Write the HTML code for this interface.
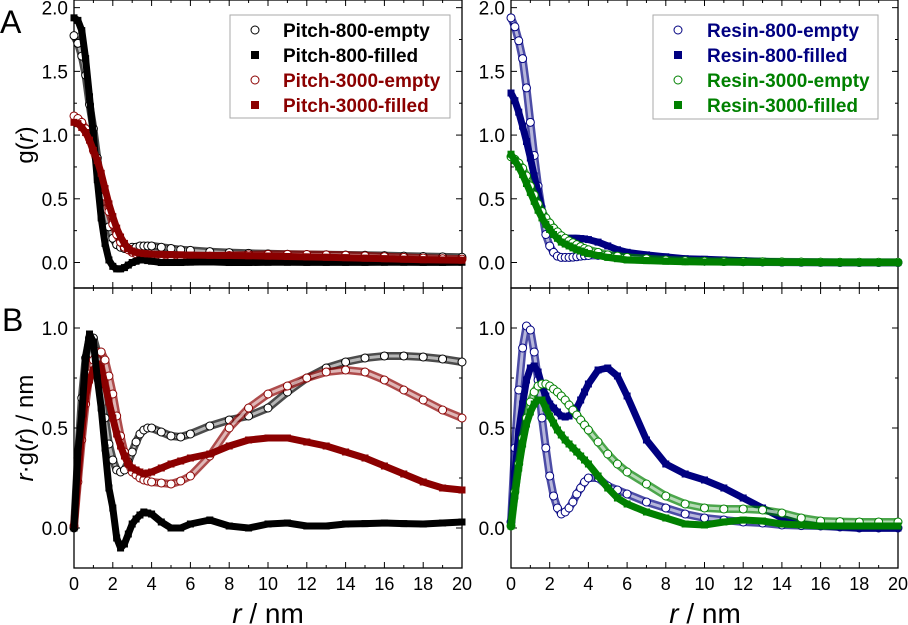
<!DOCTYPE html>
<html><head><meta charset="utf-8">
<style>
html,body{margin:0;padding:0;background:#fff;}
svg{display:block;font-family:"Liberation Sans",Arial,sans-serif;}
</style></head>
<body>
<svg id="fig" width="908" height="625" viewBox="0 0 908 625" xmlns="http://www.w3.org/2000/svg"></svg>
<script>
// ---------- DATA ----------
const rA = [0,0.2,0.4,0.6,0.8,1.0,1.2,1.4,1.6,1.8,2.0,2.2,2.4,2.6,2.8,3.0,3.2,3.4,3.6,3.8,4.0,4.5,5,5.5,6,7,8,9,10,11,12,13,14,15,16,17,18,19,20];
// top-left g(r)
const gP800e = [1.78,1.72,1.62,1.47,1.24,1.05,0.82,0.60,0.42,0.28,0.19,0.14,0.12,0.11,0.11,0.12,0.12,0.13,0.13,0.13,0.13,0.12,0.11,0.10,0.095,0.085,0.078,0.072,0.068,0.065,0.063,0.061,0.059,0.057,0.054,0.05,0.047,0.044,0.041];
const gP800f = [1.92,1.90,1.82,1.60,1.30,1.00,0.65,0.35,0.15,0.02,-0.03,-0.05,-0.05,-0.04,-0.02,0.0,0.01,0.02,0.02,0.015,0.01,0.0,0.0,0.0,0.003,0.005,0.0,0.0,0.002,0.002,0.001,0.001,0.001,0.001,0.002,0.002,0.001,0.001,0.002];
const gP3000e = [1.15,1.13,1.10,1.05,0.97,0.88,0.78,0.65,0.52,0.40,0.30,0.22,0.16,0.12,0.10,0.08,0.07,0.065,0.062,0.06,0.058,0.055,0.05,0.048,0.047,0.05,0.055,0.06,0.064,0.064,0.063,0.06,0.057,0.052,0.046,0.04,0.035,0.03,0.027];
const gP3000f = [1.10,1.09,1.06,1.02,0.96,0.88,0.80,0.70,0.58,0.46,0.36,0.27,0.20,0.15,0.11,0.09,0.08,0.075,0.07,0.068,0.066,0.064,0.062,0.06,0.058,0.056,0.055,0.053,0.05,0.047,0.044,0.041,0.038,0.034,0.03,0.026,0.022,0.02,0.018];
// bottom-left r*g(r)
const rgP800e = [0.0,0.35,0.65,0.85,0.95,0.95,0.88,0.72,0.55,0.42,0.34,0.29,0.28,0.29,0.33,0.38,0.43,0.47,0.49,0.5,0.5,0.48,0.46,0.455,0.47,0.51,0.54,0.56,0.6,0.68,0.75,0.8,0.83,0.85,0.86,0.86,0.855,0.845,0.83];
const rgP800f = [0.0,0.38,0.57,0.85,0.97,0.93,0.75,0.60,0.40,0.20,0.10,-0.05,-0.10,-0.08,-0.03,0.02,0.045,0.065,0.08,0.075,0.07,0.03,0.0,0.0,0.02,0.04,0.01,0.0,0.02,0.025,0.01,0.01,0.02,0.022,0.025,0.022,0.02,0.025,0.03];
const rgP3000e = [0.01,0.23,0.44,0.62,0.77,0.84,0.88,0.88,0.84,0.76,0.67,0.56,0.46,0.38,0.32,0.28,0.265,0.25,0.24,0.235,0.23,0.225,0.22,0.235,0.26,0.36,0.50,0.60,0.67,0.71,0.75,0.78,0.79,0.78,0.74,0.69,0.64,0.59,0.55];
const rgP3000f = [0.0,0.25,0.48,0.66,0.74,0.79,0.82,0.80,0.72,0.63,0.55,0.47,0.41,0.36,0.32,0.30,0.29,0.28,0.27,0.275,0.28,0.30,0.32,0.335,0.35,0.37,0.41,0.44,0.45,0.45,0.43,0.41,0.38,0.35,0.31,0.27,0.23,0.20,0.19];
// top-right g(r)
const gR800e = [1.92,1.85,1.74,1.60,1.37,1.10,0.84,0.60,0.40,0.22,0.13,0.08,0.05,0.04,0.04,0.04,0.042,0.045,0.05,0.053,0.055,0.056,0.055,0.05,0.04,0.03,0.02,0.015,0.01,0.008,0.006,0.004,0.003,0.002,0.001,0.0,0.0,0.0,0.0];
const gR800f = [1.33,1.27,1.18,1.07,0.95,0.82,0.68,0.55,0.42,0.32,0.26,0.22,0.20,0.19,0.19,0.19,0.19,0.19,0.188,0.185,0.18,0.16,0.13,0.10,0.08,0.06,0.045,0.03,0.025,0.02,0.015,0.01,0.005,0.003,0.002,0.001,0.0,0.0,0.0];
const gR3000e = [0.83,0.81,0.78,0.74,0.68,0.60,0.53,0.46,0.40,0.35,0.31,0.27,0.24,0.21,0.19,0.17,0.155,0.14,0.125,0.11,0.10,0.08,0.06,0.05,0.04,0.03,0.02,0.014,0.01,0.008,0.007,0.006,0.005,0.004,0.003,0.002,0.002,0.002,0.002];
const gR3000f = [0.85,0.80,0.75,0.69,0.62,0.55,0.48,0.41,0.35,0.30,0.26,0.22,0.19,0.16,0.145,0.13,0.115,0.10,0.09,0.08,0.07,0.055,0.04,0.03,0.02,0.015,0.01,0.006,0.004,0.003,0.003,0.002,0.002,0.001,0.001,0.001,0.0,0.0,0.0];
// bottom-right r*g(r)
const rgR800e = [0.03,0.40,0.69,0.90,1.01,0.99,0.88,0.74,0.55,0.40,0.26,0.16,0.10,0.07,0.08,0.10,0.13,0.17,0.20,0.23,0.25,0.25,0.21,0.19,0.17,0.13,0.10,0.07,0.05,0.04,0.03,0.025,0.015,0.012,0.01,0.005,0.0,0.0,0.0];
const rgR800f = [0.03,0.27,0.48,0.62,0.74,0.80,0.81,0.78,0.71,0.66,0.62,0.60,0.58,0.56,0.555,0.56,0.58,0.60,0.64,0.68,0.72,0.79,0.80,0.76,0.66,0.44,0.32,0.27,0.24,0.20,0.15,0.10,0.05,0.02,0.01,0.005,0.0,0.0,0.0];
const rgR3000e = [0.01,0.18,0.32,0.45,0.55,0.63,0.68,0.71,0.72,0.72,0.71,0.695,0.68,0.66,0.64,0.615,0.59,0.565,0.54,0.515,0.49,0.43,0.37,0.32,0.28,0.22,0.16,0.12,0.10,0.095,0.095,0.09,0.075,0.05,0.035,0.032,0.03,0.03,0.03];
const rgR3000f = [0.01,0.16,0.30,0.42,0.52,0.58,0.62,0.64,0.64,0.60,0.56,0.525,0.49,0.465,0.44,0.42,0.40,0.38,0.36,0.34,0.32,0.26,0.20,0.15,0.12,0.08,0.05,0.02,0.015,0.03,0.04,0.035,0.02,0.015,0.01,0.01,0.01,0.01,0.01];
const xTicks = [0,2,4,6,8,10,12,14,16,18,20];
const yTicksTop = [0.0,0.5,1.0,1.5,2.0];
const yTicksBot = [0.0,0.5,1.0];

// ---------- DRAW ----------
const NS = "http://www.w3.org/2000/svg";
const svg = document.getElementById('fig');
function el(tag, attrs, parent){ const e=document.createElementNS(NS,tag); for(const k in attrs) e.setAttribute(k,attrs[k]); (parent||svg).appendChild(e); return e; }

const panels = {
  tl:{x0:74,x1:462,y0:0,y1:288,ymin:-0.2,ymax:2.06},
  tr:{x0:511,x1:898,y0:0,y1:288,ymin:-0.2,ymax:2.06},
  bl:{x0:74,x1:462,y0:288,y1:568,ymin:-0.2,ymax:1.2},
  br:{x0:511,x1:898,y0:288,y1:568,ymin:-0.2,ymax:1.2}
};
function xs(p,v){ return p.x0 + (v/20)*(p.x1-p.x0); }
function ys(p,v){ return p.y1 - (v-p.ymin)/(p.ymax-p.ymin)*(p.y1-p.y0); }

function drawFrame(key, yTicks, showX){
  const p = panels[key];
  const g = el('g',{});
  
  
  const fr = el('rect',{x:p.x0,y:p.y0,width:p.x1-p.x0,height:p.y1-p.y0,fill:'none',stroke:'#000','stroke-width':1.3},g);
  
  
  for(let v=0; v<=20; v+=1){
    const x=xs(p,v), L = (v%2===0)?6:3;
    el('line',{x1:x,x2:x,y1:p.y1,y2:p.y1-L,stroke:'#000','stroke-width':1},g);
    el('line',{x1:x,x2:x,y1:p.y0,y2:p.y0+L,stroke:'#000','stroke-width':1},g);
  }
  for(let v=0; v<=p.ymax+0.001; v+=0.25){
    const y=ys(p,v), L = (Math.abs(v*2-Math.round(v*2))<1e-6)?6:3;
    el('line',{x1:p.x0,x2:p.x0+L,y1:y,y2:y,stroke:'#000','stroke-width':1},g);
    el('line',{x1:p.x1,x2:p.x1-L,y1:y,y2:y,stroke:'#000','stroke-width':1},g);
  }
  yTicks.forEach(v=>{
    const t = el('text',{x:p.x0-6,y:ys(p,v)+7,'text-anchor':'end','font-size':19,fill:'#000'},g);
    t.textContent = v.toFixed(1);
    
    
  });
  if(showX){
    xTicks.forEach(v=>{
      const t = el('text',{x:xs(p,v),y:590,'text-anchor':'middle','font-size':18,fill:'#000'},g);
      t.textContent = String(v);
      
      
    });
  }
}
function series(key, vals, color, filled, name){
  const p = panels[key];
  const g = el('g',{});
  
  
  const pts = rA.map((r,i)=> xs(p,r).toFixed(1)+','+ys(p,vals[i]).toFixed(1)).join(' ');
  if(filled){
    el('polyline',{points:pts,fill:'none',stroke:color,'stroke-width':7,'stroke-linejoin':'round'},g);
  } else {
    el('polyline',{points:pts,fill:'none',stroke:color,'stroke-width':8,'stroke-opacity':0.7,'stroke-linejoin':'round'},g);
    el('polyline',{points:pts,fill:'none',stroke:'#fff','stroke-width':3,'stroke-opacity':0.6,'stroke-linejoin':'round'},g);
  }
  rA.forEach((r,i)=>{
    const x=xs(p,r), y=ys(p,vals[i]);
    let m;
    if(filled){ m = el('rect',{x:x-3.5,y:y-3.5,width:7,height:7,fill:color},g); }
    else { m = el('circle',{cx:x,cy:y,r:4,fill:'#fff',stroke:color,'stroke-width':1},g); }
    
    
  });
}
drawFrame('tl', yTicksTop, false);
drawFrame('tr', yTicksTop, false);
drawFrame('bl', yTicksBot, true);
drawFrame('br', yTicksBot, true);

const BLK='#000', RED='#8b0000', NAVY='#000080', GRN='#008000';
series('tl', gP800e, BLK, false, 'series-pitch-800-empty');
series('tl', gP3000e, RED, false, 'series-pitch-3000-empty');
series('tl', gP800f, BLK, true, 'series-pitch-800-filled');
series('tl', gP3000f, RED, true, 'series-pitch-3000-filled');
series('bl', rgP800e, BLK, false, 'series-pitch-800-empty-rg');
series('bl', rgP3000e, RED, false, 'series-pitch-3000-empty-rg');
series('bl', rgP3000f, RED, true, 'series-pitch-3000-filled-rg');
series('bl', rgP800f, BLK, true, 'series-pitch-800-filled-rg');
series('tr', gR800e, NAVY, false, 'series-resin-800-empty');
series('tr', gR800f, NAVY, true, 'series-resin-800-filled');
series('tr', gR3000e, GRN, false, 'series-resin-3000-empty');
series('tr', gR3000f, GRN, true, 'series-resin-3000-filled');
series('br', rgR800e, NAVY, false, 'series-resin-800-empty-rg');
series('br', rgR800f, NAVY, true, 'series-resin-800-filled-rg');
series('br', rgR3000e, GRN, false, 'series-resin-3000-empty-rg');
series('br', rgR3000f, GRN, true, 'series-resin-3000-filled-rg');

function legend(x0,y0,w,h,mx,tx,entries,name){
  const g = el('g',{});
  
  
  el('rect',{x:x0,y:y0,width:w,height:h,fill:'#fff',stroke:'#aaa','stroke-width':1},g);
  entries.forEach((e,i)=>{
    const y = y0+15+i*25;
    if(e[2]) el('rect',{x:mx-4,y:y-4,width:8,height:8,fill:e[1]},g);
    else el('circle',{cx:mx,cy:y,r:4,fill:'#fff',stroke:e[1],'stroke-width':1},g);
    const t = el('text',{x:tx,y:y+7,'font-size':19,'font-weight':'bold',fill:e[1]},g);
    t.textContent = e[0];
    
    
  });
}
legend(230,15,220,103,255,283,[['Pitch-800-empty',BLK,false],['Pitch-800-filled',BLK,true],['Pitch-3000-empty',RED,false],['Pitch-3000-filled',RED,true]],'legend-pitch');
legend(653,15,225,104,678,707,[['Resin-800-empty',NAVY,false],['Resin-800-filled',NAVY,true],['Resin-3000-empty',GRN,false],['Resin-3000-filled',GRN,true]],'legend-resin');

function txt(s,attrs,name){ const t=el('text',attrs); t.textContent=s;   return t; }
txt('A',{x:0,y:33,'font-size':32,fill:'#000'},'panel-label-a');
txt('B',{x:2,y:331,'font-size':32,fill:'#000'},'panel-label-b');
const yt1 = el('text',{x:0,y:0,'font-size':24,fill:'#000','text-anchor':'middle',transform:'translate(33,145) rotate(-90)'});
yt1.innerHTML = 'g(<tspan font-style="italic">r</tspan>)';


const yt2 = el('text',{x:0,y:0,'font-size':24,fill:'#000','text-anchor':'middle',transform:'translate(33,428) rotate(-90)'});
yt2.innerHTML = '<tspan font-style="italic">r</tspan>·g(<tspan font-style="italic">r</tspan>) / nm';


[268,705].forEach((cx,i)=>{
  const t = el('text',{x:cx,y:623,'font-size':28,fill:'#000','text-anchor':'middle'});
  t.innerHTML = '<tspan font-style="italic">r</tspan> /  nm';
  
  
});
</script>
</body></html>
